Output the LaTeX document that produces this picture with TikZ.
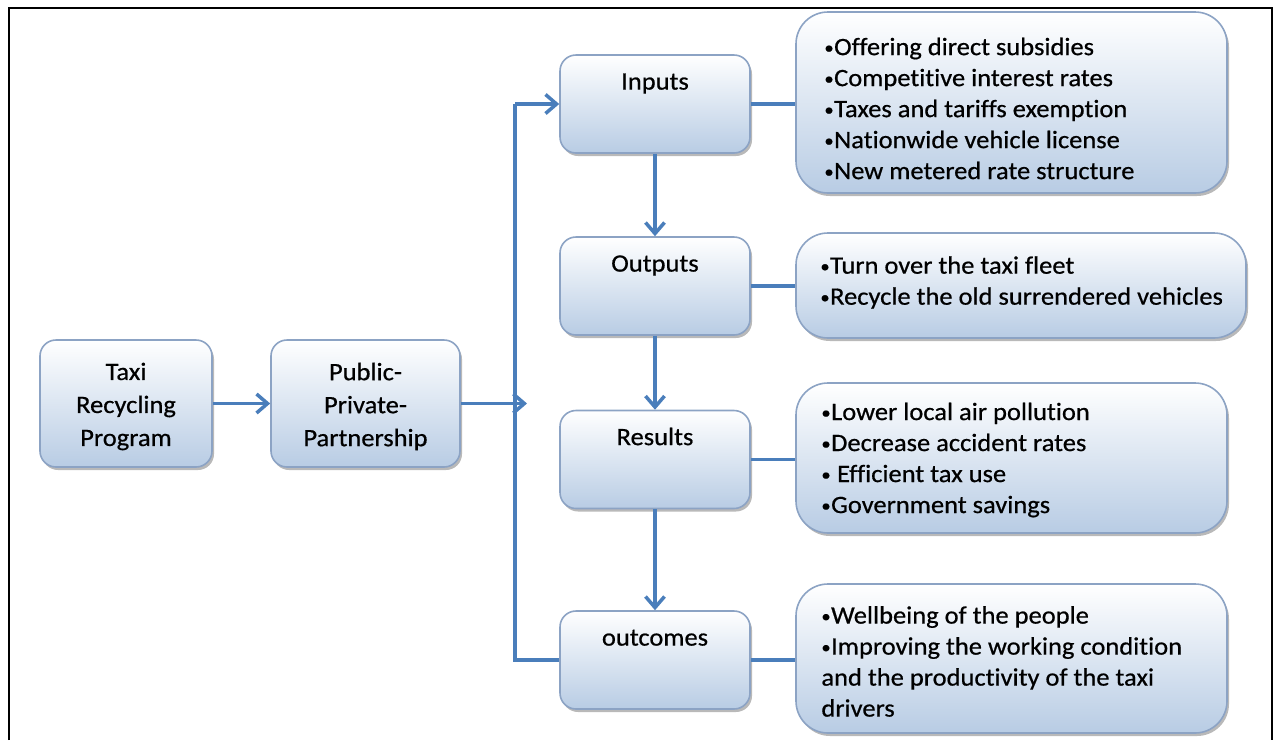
\documentclass[tikz,border=0pt]{standalone}
\usepackage{fontspec}
\usepackage{graphicx}
\setmainfont{Carlito}[FakeStretch=1.06, FakeBold=0.6, Ligatures={NoCommon}]
\usetikzlibrary{arrows.meta,shadows}
\definecolor{lineblue}{RGB}{74,126,187}
\definecolor{boxblue}{RGB}{184,204,228}
\definecolor{boxedge}{RGB}{140,163,196}
\newcommand\bul{\raisebox{0.06em}{\scalebox{0.7}{•}}\hspace{0.5pt}}
\begin{document}
\begin{tikzpicture}[x=1pt,y=-1pt,
  box/.style={draw=boxedge, line width=1.6pt, rounded corners=16pt,
    top color=white, bottom color=boxblue,
    drop shadow={shadow xshift=2pt, shadow yshift=-3pt, fill=black!55, opacity=0.5}},
  smallbox/.style={box, minimum width=190pt, minimum height=98pt},
  listbox/.style={box, rounded corners=32pt},
  conn/.style={draw=lineblue, line width=3.5pt},
  arr/.style={conn, -{Straight Barb[length=11pt,width=19pt]}},
  lbl/.style={font=\fontsize{25}{31}\selectfont, text=black, inner sep=0pt},
  listtxt/.style={lbl, align=left, anchor=west}
]
\useasboundingbox (0,0) rectangle (1275,740);
\draw[line width=2.6pt] (9,740) -- (9,8) -- (1272,8) -- (1272,740);

% left boxes
\node[box, minimum width=172pt, minimum height=127pt] (taxi) at (126,403.5) {};
\node[box, minimum width=189pt, minimum height=127pt] (ppp) at (365.5,403.5) {};
\node[lbl, align=center, font=\fontsize{25}{33}\selectfont] (taxi-t) at ([yshift=-3pt]taxi.center) {Taxi\\Recycling\\Program};
\node[lbl, align=center, font=\fontsize{25}{33}\selectfont] (ppp-t) at ([yshift=-3pt]ppp.center) {Public-\\Private-\\Partnership};

% middle boxes
\node[smallbox] (inputs) at (655,104) {};
\node[smallbox] (outputs) at (655,286) {};
\node[smallbox] (results) at (655,459.5) {};
\node[smallbox] (outcomes) at (655,660) {};
\node[lbl, anchor=mid] (inputs-t) at ([yshift=-33pt]inputs.north) {Inputs};
\node[lbl, anchor=mid] (outputs-t) at ([yshift=-33pt]outputs.north) {Outputs};
\node[lbl, anchor=mid] (results-t) at ([yshift=-33pt]results.north) {Results};
\node[lbl, anchor=mid] (outcomes-t) at ([yshift=-33pt]outcomes.north) {outcomes};

% right list boxes
\node[listbox, minimum width=431pt, minimum height=181pt] (l1) at (1011.5,102.5) {};
\node[listbox, minimum width=450pt, minimum height=105pt] (l2) at (1021,285.5) {};
\node[listbox, minimum width=431pt, minimum height=150pt] (l3) at (1011.5,458) {};
\node[listbox, minimum width=431pt, minimum height=149pt] (l4) at (1011.5,658.5) {};

\node[listtxt] (l1-t) at ([xshift=29pt,yshift=-6pt]l1.west)
  {\bul Offering direct subsidies\\\bul Competitive interest rates\\\bul Taxes and tariffs exemption\\\bul Nationwide vehicle license\\\bul New metered rate structure};
\node[listtxt] (l2-t) at ([xshift=25pt,yshift=3pt]l2.west)
  {\bul Turn over the taxi fleet\\\bul Recycle the old surrendered vehicles};
\node[listtxt] (l3-t) at ([xshift=26pt,yshift=-2pt]l3.west)
  {\bul Lower local air pollution\\\bul Decrease accident rates\\\bul\ Efficient tax use\\\bul Government savings};
\node[listtxt] (l4-t) at ([xshift=26pt,yshift=-3pt]l4.west)
  {\bul Wellbeing of the people\\\bul Improving the working condition\\and the productivity of the taxi\\drivers};

% connectors
\coordinate (v) at (515,403.5);
\coordinate (j) at (527,403.5);
\draw[arr] (taxi.east) -- (ppp.west);
\draw[conn] (outcomes.west) -- (outcomes.west -| v) -- (inputs.west -| v);
\draw[arr] (inputs.west -| v) -- (inputs.west);
\draw[arr] (ppp.east) -- (j);
\draw[arr] (inputs.south) -- (outputs.north);
\draw[arr] (outputs.south) -- (results.north);
\draw[arr] (results.south) -- (outcomes.north);
\draw[conn] (inputs.east) -- (inputs.east -| l1.west);
\draw[conn] (outputs.east) -- (outputs.east -| l2.west);
\draw[conn] (results.east) -- (results.east -| l3.west);
\draw[conn] (outcomes.east) -- (outcomes.east -| l4.west);
\end{tikzpicture}
\end{document}
